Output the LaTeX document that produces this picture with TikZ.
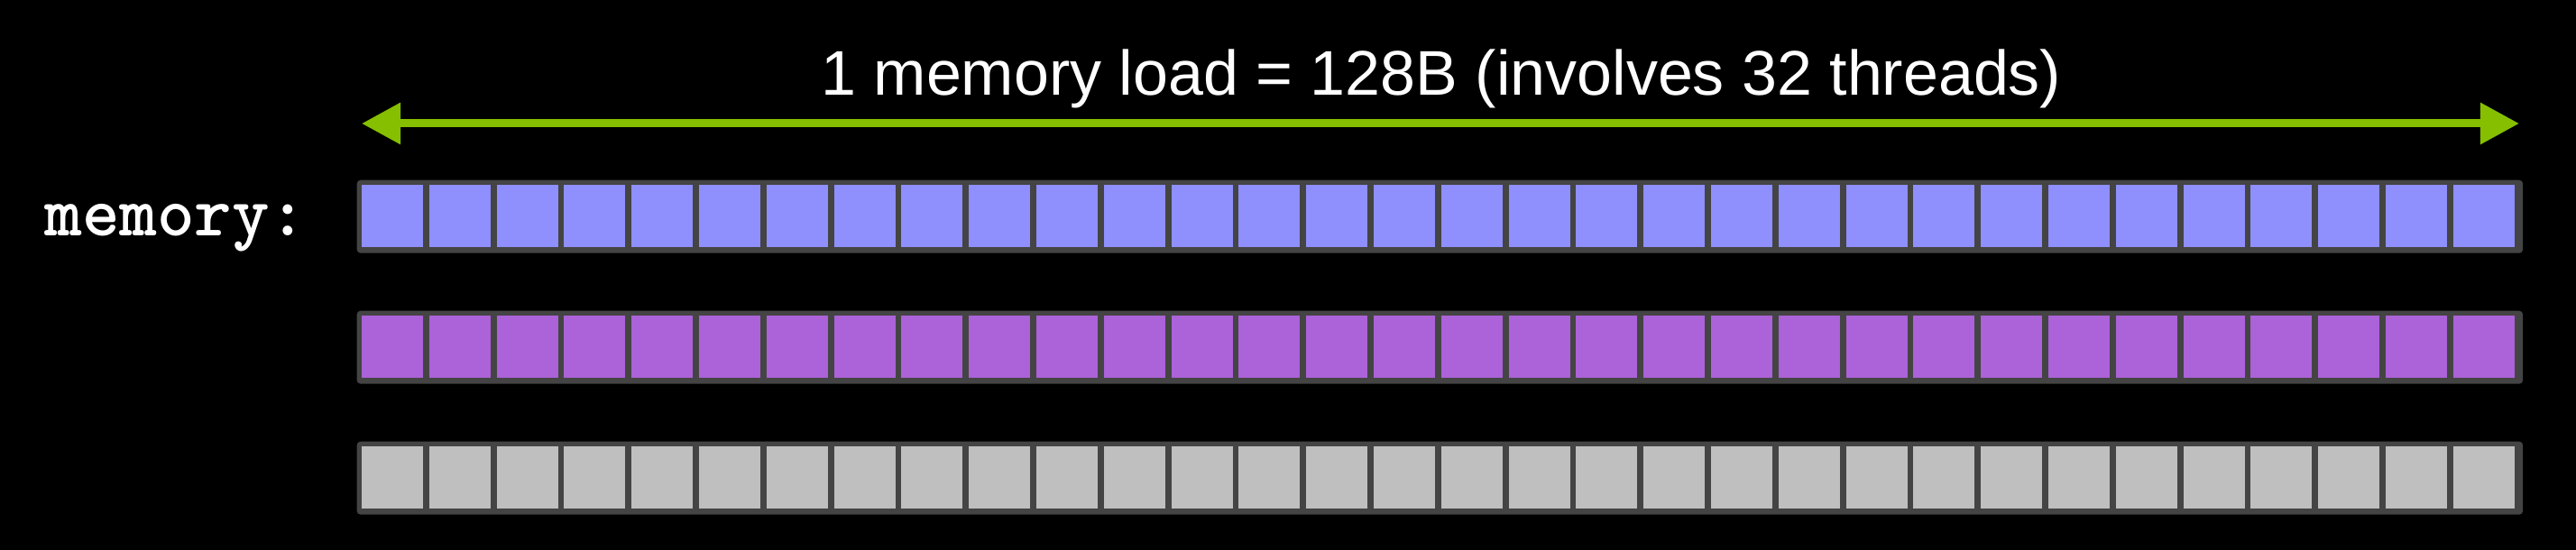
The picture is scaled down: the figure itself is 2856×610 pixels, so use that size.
\documentclass[tikz,border=0pt]{standalone}
\usepackage{fontspec}
\setmainfont{Liberation Sans}
\usetikzlibrary{arrows.meta}
\definecolor{nvgreen}{HTML}{85BF00}
\definecolor{celledge}{HTML}{444444}
\definecolor{memblue}{HTML}{8F8FFD}
\definecolor{mempurple}{HTML}{AC62D8}
\definecolor{memgray}{HTML}{BFBFBF}

\begin{document}
\begin{tikzpicture}[x=0.01cm,y=-0.01cm,
  cell/.style={inner sep=0pt,minimum width=0.68cm,minimum height=0.68cm},
  rowbox/.style={fill=celledge,rounded corners=0.04cm,inner sep=0pt,
    minimum width=24cm,minimum height=0.81cm,anchor=north west}]
\fill[black] (0,0) rectangle (2856,610);
\coordinate (loadL) at (401,137); \coordinate (loadR) at (2793,137);
\draw[nvgreen,line width=0.09cm,
  {Triangle[length=0.43cm,width=0.44cm]}-{Triangle[length=0.43cm,width=0.44cm]}]
  (loadL)--(loadR);
\node[anchor=base,text=white,font=\fontsize{19.9}{24}\selectfont] (title) at (1598,106)
  {1 memory load = 128B (involves 32 threads)};
\node[anchor=base west,inner sep=0pt,text=white,font=\fontsize{22.5}{26}\selectfont\ttfamily\bfseries]
  (memlabel) at (49,262) {memory:};
\foreach \r/\y/\c in {1/199/memblue,2/344/mempurple,3/489/memgray}{
  \node[rowbox] (row\r) at (395,\y) {};
  \foreach \i in {0,...,31}
    \node[cell,fill=\c] (r\r c\i) at ({435+\i*74.8},{\y+40.5}) {};
}
\end{tikzpicture}
\end{document}
